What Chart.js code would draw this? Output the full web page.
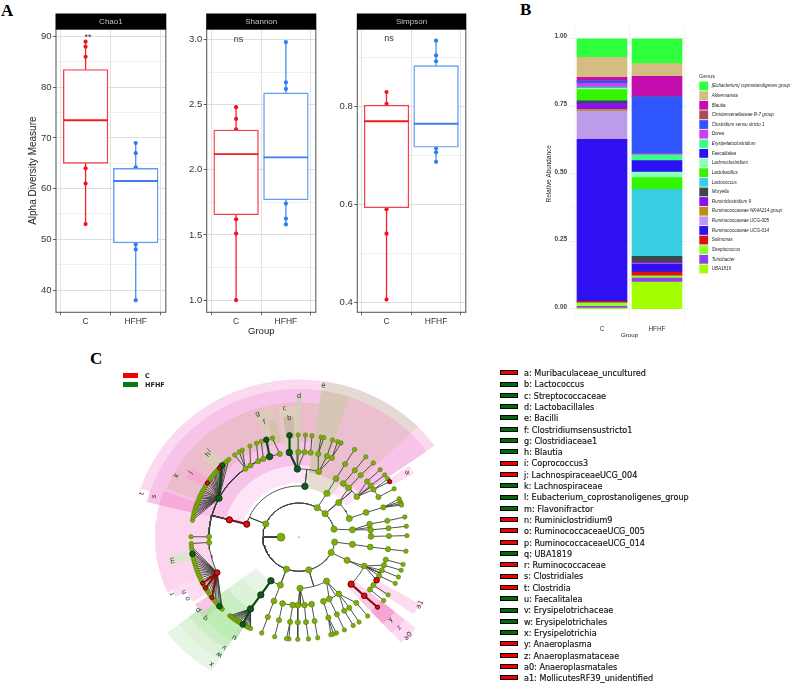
<!DOCTYPE html>
<html><head><meta charset="utf-8">
<script src="https://cdn.jsdelivr.net/npm/chart.js@4"></script>
<style>
html,body{margin:0;padding:0;background:#fff;width:794px;height:692px;overflow:hidden}
canvas{position:absolute;display:block;filter:blur(.3px)}
.tag{position:absolute;font:bold 17px "Liberation Serif";color:#000;line-height:17px}
#lefse{filter:blur(.25px)}
#lefse div{position:absolute;left:500px;width:16px;height:3px;border:1px solid #000;border-width:1.3px 1px}
#lefse span{position:absolute;left:524px;font:8.1px/10px "DejaVu Sans";color:#111;white-space:nowrap;-webkit-text-stroke:.15px #111}
.mini{position:absolute;font:bold 6.5px/8px "DejaVu Sans";color:#222}
.miniBox{position:absolute;left:123px;width:15px;height:4.5px}
</style></head><body>
<span class="tag" style="left:1px;top:2px">A</span>
<span class="tag" style="left:520px;top:1px">B</span>
<span class="tag" style="left:90px;top:350px">C</span>
<div id="lefse"></div>
<script>
/* ---------- A: alpha diversity ---------- */
const groups=['C','HFHF'];
const chaoC=[89,88,86,64,61,53], chaoH=[69,67,64.2,49,48,38];
const chaoBoxC=[65,73.5,83.5], chaoBoxH=[49.3,61.5,64];
const chaoTicks=[40,50,60,70,80,90], chaoMinor=[45,55,65,75,85];
const shanC=[2.48,2.39,2.31,1.62,1.51,1.0], shanH=[2.98,2.67,2.62,1.74,1.625,1.58];
const shanBoxC=[1.655,2.12,2.305], shanBoxH=[1.77,2.095,2.59];
const shanTicks=[1,1.5,2,2.5,3], shanMinor=[1.25,1.75,2.25,2.75];
const simpC=[0.83,0.806,0.59,0.54,0.405], simpH=[0.935,0.905,0.893,0.715,0.7065,0.687];
const simpBoxC=[0.593,0.77,0.803], simpBoxH=[0.717,0.765,0.884];
const simpTicks=[0.4,0.6,0.8], simpMinor=[0.5,0.7,0.9];

/* ---------- B: relative abundance ---------- */
const genera=['[Eubacterium] coprostanoligenes group','Akkermansia','Blautia','Christensenellaceae R-7 group','Clostridium sensu stricto 1','Dorea','Erysipelatoclostridium','Faecalitalea','Lachnoclostridium','Lactobacillus','Lactococcus','Moryella','Ruminiclostridium 9','Ruminococcaceae NK4A214 group','Ruminococcaceae UCG-005','Ruminococcaceae UCG-014','Solimonas','Streptococcus','Turicibacter','UBA1819'];
const abundC=[.069,.074,.011,.002,.009,.014,.004,.001,.004,.04,.002,.01,.021,.007,.104,.6,.005,.013,.007,.003];
const abundH=[.092,.047,.073,.003,.21,.005,.021,.042,.021,.043,.248,.021,.007,.001,.001,.028,.014,.009,.014,.1];
const generaColors=['#2EFF3B','#D4BD80','#C40DB0','#A84A5A','#2F55FF','#D03CF0','#3BFF88','#2A14F5','#8CFFB8','#33F500','#38CFE3','#3C4850','#8A10F0','#BE8F18','#BC9CEA','#2E10F0','#DC1010','#8CFF33','#9040F0','#A4FF00'];
const abundTicks=[0,.25,.5,.75,1], abundMinor=[.125,.375,.625,.875];

/* ---------- C: LEfSe cladogram ---------- */
const lefseNames=['a: Muribaculaceae_uncultured','b: Lactococcus','c: Streptococcaceae','d: Lactobacillales','e: Bacilli','f: Clostridiumsensustricto1','g: Clostridiaceae1','h: Blautia','i: Coprococcus3','j: LachnospiraceaeUCG_004','k: Lachnospiraceae','l: Eubacterium_coprostanoligenes_group','m: Flavonifractor','n: Ruminiclostridium9','o: RuminococcaceaeUCG_005','p: RuminococcaceaeUCG_014','q: UBA1819','r: Ruminococcaceae','s: Clostridiales','t: Clostridia','u: Faecalitalea','v: Erysipelotrichaceae','w: Erysipelotrichales','x: Erysipelotrichia','y: Anaeroplasma','z: Anaeroplasmataceae','a0: Anaeroplasmatales','a1: MollicutesRF39_unidentified'];
const lefseGroup=['C','H','H','H','H','H','H','H','C','C','H','H','H','C','C','C','H','C','C','C','H','H','H','H','C','C','C','C'];
// id, parent, ring, clock angle (deg), enrichment: n none, r C, g HFHF
const cladeNodes=[
['K',null,1,270,'n'],
['P1','K',2,291.7,'n'],['P2','K',2,31.8,'n'],['P3','K',2,48,'n'],['P4','K',2,77.2,'n'],['P5','K',2,98,'n'],['P6','K',2,115.6,'n'],['P7','K',2,163.3,'n'],['P8','K',2,201.4,'n'],
['C1','P1',3,284,'r'],['B','P1',3,6.6,'g'],['A3','P2',3,32.4,'n'],['A4','P3',3,48.9,'n'],['A5','P3',3,69.6,'n'],['A6','P4',3,82.2,'n'],['A7','P5',3,97.7,'n'],['A8','P6',3,115.8,'n'],['A9','P7',3,178.9,'n'],['A10','P7',3,148,'n'],['A11','P8',3,201.2,'n'],['Gx','P8',3,212.7,'g'],
['C2','C1',4,284,'r'],['D','B',4,358.6,'g'],['B2','B',4,16.8,'n'],['a3','A3',4,32.3,'n'],['a41','A4',4,39.5,'n'],['a42','A4',4,45.1,'n'],['a43','A4',4,55,'n'],['a5','A5',4,69.8,'n'],['a61','A6',4,79.5,'n'],['a62','A6',4,84.2,'n'],['a63','A6',4,89.4,'n'],['a7','A7',4,97.9,'n'],['E1','A8',4,113.9,'n'],['Y1','A8',4,132.1,'r'],
['a91','A9',4,169.4,'n'],['a92','A9',4,175.4,'n'],['a93','A9',4,181,'n'],['a94','A9',4,185.3,'n'],['a95','A9',4,193.9,'n'],['a101','A10',4,145,'n'],['a102','A10',4,154,'n'],['a103','A10',4,159.2,'n'],['a11','A11',4,201.4,'n'],['Gw','Gx',4,213.4,'g'],
['K5','C2',5,296,'g'],['T1','C2',5,322,'n'],['T2','C2',5,326,'n'],['T3','C2',5,331.8,'n'],['T4','C2',5,335.6,'n'],['G5','C2',5,340,'g'],['T6','C2',5,347,'n'],['T7','C2',5,266.6,'n'],['T8','C2',5,270.2,'n'],['R5','C2',5,246.5,'r'],
['c5','D',5,353.5,'g'],['d2','D',5,359.5,'n'],['d3','D',5,3.7,'n'],['d4','D',5,7.8,'n'],['b1','B2',5,13,'n'],['b2','B2',5,19,'n'],['b3','B2',5,22.5,'n'],
['s3','a3',5,32.2,'n'],['s41','a41',5,39.8,'n'],['s42','a42',5,44.8,'n'],['s43','a43',5,50.6,'n'],['s44','a43',5,54.2,'n'],['s45','a43',5,57.4,'n'],['s46','a43',5,63.2,'n'],['s5','a5',5,70.5,'n'],['s61','a61',5,79.5,'n'],['s62','a62',5,84.3,'n'],['s63','a63',5,89.3,'n'],['s7','a7',5,97.7,'n'],
['e1','E1',5,104.6,'n'],['e2','E1',5,108.3,'n'],['e3','E1',5,111.9,'n'],['e4','E1',5,115.8,'n'],['e5','E1',5,119.1,'r'],['e6','E1',5,122.9,'n'],['e7','E1',5,126.5,'n'],['Y2','Y1',5,132,'r'],
['h1','a101',5,139,'n'],['h2','a101',5,144.6,'n'],['h3','a101',5,148.5,'n'],['h4','a102',5,153.9,'n'],['h5','a103',5,160,'n'],['h6','a91',5,169.5,'n'],['h7','a92',5,175.3,'n'],['h8','a93',5,180.8,'n'],['h9','a94',5,186,'n'],['h10','a95',5,193.5,'n'],['h11','a11',5,201.3,'n'],['Gv','Gw',5,214,'g'],
['l1','T1',6,322,'n'],['l2','T1',6,325,'n'],['l3','T1',6,327,'n'],['l4','T2',6,331.7,'n'],['l5','T3',6,335.7,'n'],['l6','T4',6,338.5,'n'],['l7','G5',6,341.5,'g'],['l8','T6',6,345,'n'],['l9','T7',6,266.6,'n'],['l10','T8',6,270.2,'n'],
['b6','c5',6,354.7,'g'],['l11','d2',6,359.5,'n'],['l12','d3',6,3.6,'n'],['l13','d4',6,7.3,'n'],['l14','b1',6,12.4,'n'],['l15','b1',6,14,'n'],['l16','b2',6,19,'n'],['l17','b3',6,22,'n'],['l18','b3',6,24,'n'],
['l19','s3',6,32.3,'n'],['l20','s41',6,39.7,'n'],['l21','s42',6,45,'n'],['l22','s43',6,50.2,'n'],['l23','s44',6,54,'n'],['l24','s45',6,56.7,'n'],['l25','s45',6,58.5,'r'],['l26','s46',6,63,'n'],['l27','s5',6,69,'n'],['l28','s5',6,70.6,'n'],['l29','s5',6,71.7,'n'],['l30','s5',6,72.6,'n'],['l31','s61',6,79.2,'n'],['l32','s62',6,84.2,'n'],['l33','s63',6,89.2,'n'],['l34','s7',6,97.5,'n'],
['l35','e1',6,104.7,'n'],['l36','e2',6,108,'n'],['l37','e3',6,111.9,'n'],['l38','e4',6,115.7,'n'],['l39','e6',6,123,'n'],['l40','e7',6,126.9,'n'],['Y3','Y2',6,131.8,'r'],
['l41','h1',6,139,'n'],['l42','h2',6,144.8,'n'],['l43','h3',6,148.5,'n'],['l44','h4',6,154,'n'],['l45','h5',6,158.7,'n'],['l46','h5',6,160.5,'n'],['l47','h5',6,162,'n'],['l48','h6',6,169.5,'n'],['l49','h7',6,174.7,'n'],['l50','h8',6,180.7,'n'],['l51','h9',6,185.6,'n'],['l52','h9',6,187,'n'],['l53','h10',6,193.7,'n'],['l54','h11',6,201.2,'n']
];
// leaf fans: clock angles of the ring-6 leaves
const fanK=[279,280.5,282,283.2,284.5,286,287,288.3,289.5,291,292.2,293.5,295,296.2,297.5,299,302,303.3,304.5,306,307.2,308.5,310,312,314.5,316,318];
const fanKRed=[300.6,311], fanKDark=[313];
const fanR=[265,263.5,262,259.5,258,256.5,255,253.5,252,250.5,249,247.5,246,243,240,238.5,237,234,232.5,231,227.5,226.8];
const fanRRed=[244.4,241.4,235.3], fanRDark=[261,229];
const fanG=[221.3,220.3,219.4,218.4,217.5,216.5,215.6,214.6,212,211,210,209,207.9];
const fanGDark=[212.8];
// shaded clades: from, to (clock deg), inner ring, outer ring, colour
const cladeSectors=[
[287,56,3.2,9.25,'#FBDAF1'],[247,287,5,8,'#FBD5EE'],[283,56,4.2,8.7,'#F8C3E8'],[283,56,3.2,4.2,'#FDE4F6'],
[290,8.6,5.6,7.9,'#EBBCCB'],[20,47,3.8,8.7,'#EBBFD0'],[8.6,47,8.7,9.25,'#E5DAD2'],[8.6,20,3.8,8.7,'#D7C5B6'],[7,38,2.9,3.8,'#E6DDD0'],
[283,289,6.1,8,'#F6ABDB'],[298,303,6,7.2,'#F7A8CF'],[309,315,6,7.1,'#DCCDB8'],
[340.5,349,5.7,7.7,'#DEC9BC'],[345,349,5.7,7,'#D3C3A9'],[351,359,4.8,7.7,'#DFCEC0'],[352.5,357.5,5.8,7.1,'#CDBBAA'],[359,1,3.9,8.3,'#D6CDBD'],
[57,61,6,7.4,'#FBDCF0'],[119,124,4.9,7.8,'#FBDCF0'],[128,136,3.9,8.4,'#FBDCF0'],[128,136,4.9,7.6,'#FAC9E8'],[128,136,5.9,6.9,'#F7A4D6'],
[213,234,3,9.25,'#E8F5E6'],[213,234,4,8.4,'#DDF2D8'],[213,234,5,7.7,'#CBEDC4'],[213,234,6,7.1,'#BDECB4'],[229,233,6.2,7.1,'#BBE0B0'],[211.5,214,5.9,7,'#B9E6B2'],
[244,248,6,7.7,'#FBDCF0'],[241,245.5,6,7,'#FBDCF0'],[238.5,243,6,7,'#FBDCF0'],[232,237,6,7,'#F7C5E5'],[258,262,6,7.2,'#DDE5D0']
];
// clade letters: text, clock angle, ring distance
const cladeLabels=[['a',59.2,7.1],['a1',119.2,7.8],['a0',132.3,8.4],['z',132.2,7.7],['y',132.1,7],['x',214.5,8.9],['w',214.1,8.2],['v',214,7.7],['u',212.7,6.9],['q',229,7.05],['p',234.1,7.05],['o',241,7.15],['n',244.4,7.15],['r',246,7.8],['m',259.5,7.15],['s',285.7,8.4],['t',285.5,9.1],['k',296.7,7.7],['j',300.9,7.15],['h',312.3,7],['i',314,7.1],['g',341.5,7.6],['f',343.2,7],['c',353.6,7.6],['b',355.3,7],['d',0,8.3],['e',9.1,9]];

/* ---------- helpers ---------- */
const TEXT='"Liberation Sans"';
const frame={id:'frame',afterDatasetsDraw(c,a,o){
  if(!o.strip)return;const {left,top,right,bottom}=c.chartArea,x=c.ctx;
  x.save();x.strokeStyle='#5B6262';x.lineWidth=1.1;x.strokeRect(left,top,right-left,bottom-top);
  x.fillStyle='#000';x.fillRect(left-.5,top-15.5,right-left+1,16);
  x.fillStyle='#C4C4C4';x.font='8px '+TEXT;x.textAlign='center';x.textBaseline='middle';
  x.fillText(o.strip,(left+right)/2,top-7.5);
  x.fillStyle='#333';x.font='9px '+TEXT;
  x.fillText(o.mark,c.scales.x.getPixelForValue(o.markX),c.scales.y.getPixelForValue(o.markY));
  x.restore();}};
function mkCanvas(l,t,w,h){const c=document.createElement('canvas');c.width=w;c.height=h;c.style.left=l+'px';c.style.top=t+'px';document.body.appendChild(c);return c;}
function tickSetter(maj,min){return s=>{s.ticks=maj.concat(min).map(v=>({value:v}));};}
function box(l,w,axisW,padR,ymin,ymax,maj,min,ptsC,ptsH,bC,bH,strip,mark,markY,yTitle,xTitle,fmt){
 const red='#F5202F',blue='#4A8CF2';
 new Chart(mkCanvas(l,0,w,345),{type:'bar',plugins:[frame],data:{datasets:[
  {type:'line',data:[{x:1,y:bC[1]},{x:2,y:bH[1]}],showLine:false,pointStyle:'line',pointRadius:22.3,pointBorderWidth:1.9,pointBorderColor:['#F01A24','#3F7FE8'],order:0},
  {type:'bar',data:[{x:1,y:[bC[0],bC[2]]},{x:2,y:[bH[0],bH[2]]}],backgroundColor:'#fff',borderColor:['#F5404C','#5E9DF6'],borderWidth:1.4,borderSkipped:false,barThickness:44.7,order:1},
  {type:'line',data:ptsC.map(v=>({x:1,y:v})),borderColor:red,backgroundColor:'#F5101F',borderWidth:1.3,pointRadius:2.1,pointBorderWidth:0,order:2},
  {type:'line',data:ptsH.map(v=>({x:2,y:v})),borderColor:blue,backgroundColor:'#2F7BF0',borderWidth:1.3,pointRadius:2.1,pointBorderWidth:0,order:3}
 ]},options:{responsive:false,animation:false,events:[],layout:{padding:{top:29,right:padR}},
  plugins:{legend:{display:false},tooltip:{enabled:false},frame:{strip,mark,markX:1.05,markY}},
  scales:{
   x:{type:'linear',min:.41,max:2.6,offset:false,afterBuildTicks:s=>{s.ticks=[{value:1},{value:2}];},afterFit:s=>{s.height=32.7;},
      grid:{color:'#D9DCDC',lineWidth:.8,tickLength:3,tickColor:'#444'},border:{display:false},
      ticks:{font:{family:TEXT,size:8.5},color:'#333',padding:1.5,maxRotation:0,autoSkip:false,callback:v=>groups[v-1]},
      title:{display:!!xTitle,text:xTitle,font:{family:TEXT,size:9.5},color:'#222',padding:{top:0,bottom:8}}},
   y:{type:'linear',min:ymin,max:ymax,afterBuildTicks:tickSetter(maj,min),afterFit:s=>{s.width=axisW;},
      grid:{color:c=>maj.includes(c.tick.value)?'#D9DCDC':'#ECEEEE',lineWidth:.9,tickLength:3,tickColor:c=>maj.includes(c.tick.value)?'#444':'rgba(0,0,0,0)'},border:{display:false},
      ticks:{font:{family:TEXT,size:9.5},color:'#333',padding:1.5,autoSkip:false,callback:v=>maj.includes(v)?fmt(v):''},
      title:{display:!!yTitle,text:yTitle,font:{family:TEXT,size:10},color:'#222',padding:{top:27.5,bottom:0}}}
  }}});
}
box(0,190,56,4.3,35.6,91.5,chaoTicks,chaoMinor,chaoC,chaoH,chaoBoxC,chaoBoxH,'Chao1','**',89.9,'Alpha Diversity Measure','',v=>String(v));
box(160,180,46.7,4,.906,3.08,shanTicks,shanMinor,shanC,shanH,shanBoxC,shanBoxH,'Shannon','ns',3,'','Group',v=>v.toFixed(1));
box(320,170,37.3,3.3,.379,.959,simpTicks,simpMinor,simpC,simpH,simpBoxC,simpBoxH,'Simpson','ns',.94,'','',v=>v.toFixed(1));

/* ---------- B chart ---------- */
const genusKey={id:'genusKey',afterDraw(c){const x=c.ctx;x.save();x.textBaseline='middle';x.fillStyle='#333';x.font='5.4px '+TEXT;x.fillText('Genus',189,77);
  genera.forEach((g,i)=>{const y=86+9.63*i;x.fillStyle=generaColors[i];x.fillRect(189.3,y-4.4,8.8,8.8);x.fillStyle='#222';x.font='italic 4.5px '+TEXT;x.fillText(g,201.7,y);});x.restore();}};
new Chart(mkCanvas(510,0,284,345),{type:'bar',plugins:[genusKey],data:{datasets:genera.map((g,i)=>({label:g,data:[{x:1,y:abundC[i]},{x:2,y:abundH[i]}],backgroundColor:generaColors[i],barThickness:50,stack:'s'})).reverse()},
 options:{responsive:false,animation:false,events:[],layout:{padding:{top:25.2,right:104}},plugins:{legend:{display:false},tooltip:{enabled:false}},
  scales:{
   x:{type:'linear',stacked:true,min:.4,max:2.6,offset:false,afterBuildTicks:s=>{s.ticks=[{value:1},{value:2}];},afterFit:s=>{s.height=22.5;},
      grid:{color:'#F1F1F1',lineWidth:.8,drawTicks:false},border:{display:false},
      ticks:{font:{family:TEXT,size:6.4},color:'#333',padding:2.5,maxRotation:0,autoSkip:false,callback:v=>groups[v-1]},
      title:{display:true,text:'Group',font:{family:TEXT,size:6.2},color:'#222',padding:{top:0,bottom:5.5}}},
   y:{stacked:true,min:-.05,max:1.05,afterBuildTicks:tickSetter(abundTicks,abundMinor),afterFit:s=>{s.width=59;},
      grid:{color:c=>abundTicks.includes(c.tick.value)?'#EDEDED':'#F6F6F6',lineWidth:.8,drawTicks:false},border:{display:false},
      ticks:{font:{family:TEXT,size:6.4,weight:'bold'},color:'#444',padding:2,labelOffset:-2,autoSkip:false,callback:v=>abundTicks.includes(v)?v.toFixed(2):''},
      title:{display:true,text:'Relative Abundance',font:{family:TEXT,size:6.4},color:'#222',padding:{top:35.5,bottom:0}}}
  }}});

/* ---------- C cladogram ---------- */
const XS=18.5,YS=17.55,ASP=YS/XS;
function toXY(r,deg){const t=deg*Math.PI/180,a=Math.atan2(Math.sin(t)*ASP,Math.cos(t));return {x:r*Math.sin(a),y:r*Math.cos(a)};}
function fanRows(par,list,kind,tag){return list.map((t,i)=>[tag+i,par,6,t,kind]);}
const allNodes=cladeNodes.concat(fanRows('K5',fanK,'n','fk'),fanRows('K5',fanKRed,'r','fkr'),fanRows('K5',fanKDark,'g','fkd'),
  fanRows('R5',fanR,'n','fr'),fanRows('R5',fanRRed,'r','frr'),fanRows('R5',fanRDark,'g','frd'),
  fanRows('Gv',fanG,'n','fg'),fanRows('Gv',fanGDark,'g','fgd'));
const byId={};allNodes.forEach(n=>byId[n[0]]=n);
const angleStep=n=>{const p=byId[n[1]];return ((n[3]-p[3]+540)%360)-180;};
const isArc=n=>Math.abs(angleStep(n))>6&&n[2]<=5;
function pathOf(n){const p=byId[n[1]];const out=[];const d=angleStep(n);
  if(isArc(n)){out.push(toXY(p[2],p[3]));const st=Math.max(6,Math.ceil(Math.abs(d)/2));for(let i=0;i<=st;i++)out.push(toXY(n[2],p[3]+d*i/st));}
  else{out.push(toXY(p[2],p[3]),toXY(n[2],n[3]));}
  out.push({x:NaN,y:NaN});return out;}
const thin=[],thickR=[],thickG=[];
allNodes.forEach(n=>{if(!n[1])return;const p=byId[n[1]],t=pathOf(n);
  if(isArc(n)||n[4]==='n'||n[4]!==p[4])thin.push(...t);else if(n[4]==='r')thickR.push(...t);else thickG.push(...t);});
function sectorPoly(s){let a=s[0],b=s[1];if(b<a)b+=360;const pts=[],n=Math.max(2,Math.ceil((b-a)/2));
  for(let i=0;i<=n;i++)pts.push(toXY(s[3],a+(b-a)*i/n));for(let i=n;i>=0;i--)pts.push(toXY(s[2],a+(b-a)*i/n));pts.push(toXY(s[3],a));return pts;}
const radiusByRing={1:4,2:3.1,3:3.1,4:2.9,5:2.6,6:2.2};
function nodesOf(kind){return allNodes.filter(n=>n[4]===kind).map(n=>Object.assign(toXY(n[2],n[3]),{ring:n[2]}));}
const cset=[];
cladeSectors.forEach(s=>cset.push({data:sectorPoly(s),showLine:true,fill:'shape',backgroundColor:s[4],borderWidth:0,borderColor:'rgba(0,0,0,0)',pointRadius:0}));
cset.push({data:thin,showLine:true,borderColor:'#3A3F38',borderWidth:.9,pointRadius:0,spanGaps:false});
cset.push({data:thickR,showLine:true,borderColor:'#8E0B0B',borderWidth:2.1,pointRadius:0,spanGaps:false});
cset.push({data:thickG,showLine:true,borderColor:'#0A4A12',borderWidth:2.2,pointRadius:0,spanGaps:false});
cset.push({data:nodesOf('n'),pointRadius:c=>radiusByRing[c.raw.ring],backgroundColor:'#7DAE08',borderColor:'#5C7A10',borderWidth:.6});
cset.push({data:nodesOf('g'),pointRadius:c=>c.raw.ring>=6?2.8:3.2,backgroundColor:'#0E5A18',borderColor:'#0B2B0E',borderWidth:.8});
cset.push({data:nodesOf('r'),pointRadius:c=>c.raw.ring>=6?2.1:(c.raw.ring===5?2.8:3.1),backgroundColor:'#F20A0A',borderColor:'#300',borderWidth:.9});
cset.push({data:[{x:0,y:0}],pointRadius:.9,backgroundColor:'#B8D000',borderWidth:0});
cset.forEach((d,i)=>{d.order=cset.length-i;d.tension=0;});
const letters={id:'letters',afterDatasetsDraw(c){const x=c.ctx;x.save();x.font='7px "DejaVu Sans"';x.textAlign='center';x.textBaseline='middle';
  cladeLabels.forEach(l=>{const p=toXY(l[2],l[1]),px=c.scales.x.getPixelForValue(p.x),py=c.scales.y.getPixelForValue(p.y);
    const rot=(l[1]>90&&l[1]<200)?l[1]-180:l[1];const pinkish=!(l[1]>205&&l[1]<235)&&!'kfgcbdemh'.includes(l[0]);
    x.save();x.translate(px,py);x.rotate(rot*Math.PI/180);x.fillStyle=pinkish?'#4A1A3C':'#1E4A20';x.fillText(l[0],0,0);x.restore();});x.restore();}};
new Chart(mkCanvas(119,358,360,334),{type:'scatter',plugins:[letters],data:{datasets:cset},
 options:{responsive:false,animation:false,events:[],layout:{padding:0},plugins:{legend:{display:false},tooltip:{enabled:false}},
  scales:{x:{type:'linear',display:false,min:-180/XS,max:180/XS},y:{type:'linear',display:false,min:-154.5/YS,max:179.5/YS}}}});

/* ---------- HTML legends ---------- */
const lf=document.getElementById('lefse');
lefseNames.forEach((n,i)=>{const y=373+11.3*i;const b=document.createElement('div');b.style.top=(y-2.8)+'px';b.style.background=lefseGroup[i]==='C'?'#F40000':'#006A0A';lf.appendChild(b);
  const s=document.createElement('span');s.textContent=n;s.style.top=(y-5)+'px';lf.appendChild(s);});
[['C','#F40000',373],['HFHF','#0B7A14',382]].forEach(r=>{const b=document.createElement('div');b.className='miniBox';b.style.top=r[2]+'px';b.style.background=r[1];document.body.appendChild(b);
  const s=document.createElement('div');s.className='mini';s.textContent=r[0];s.style.left='145px';s.style.top=(r[2]-1.5)+'px';document.body.appendChild(s);});
</script></body></html>
